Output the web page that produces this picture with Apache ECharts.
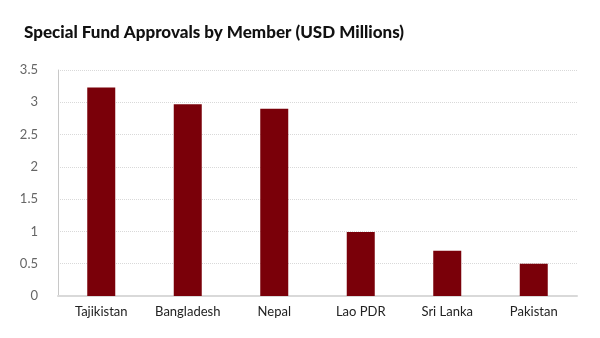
<!DOCTYPE html>
<html><head><meta charset="utf-8">
<script src="https://cdn.jsdelivr.net/npm/echarts@6/dist/echarts.min.js"></script>
<style>html,body{margin:0;padding:0;background:#fff}#c{width:600px;height:338px}</style>
</head><body><div id="c"></div>
<script>
const categories = ['Tajikistan','Bangladesh','Nepal','Lao PDR','Sri Lanka','Pakistan'];
const values = [3.23, 2.97, 2.90, 0.99, 0.70, 0.50];
const yTicks = [0,0.5,1,1.5,2,2.5,3,3.5];

const chart = echarts.init(document.getElementById('c'));
chart.setOption({
  animation:false,
  title:{text:'Special Fund Approvals by Member (USD Millions)',left:19,top:19,
    textStyle:{fontFamily:'Lato',fontWeight:900,fontSize:17,color:'#111'}},
  grid:{left:58,right:23,top:70,bottom:42,containLabel:false},
  xAxis:{type:'category',data:categories,
    axisLine:{lineStyle:{color:'#d9d9d9',width:2}},
    axisTick:{show:false},
    axisLabel:{color:'#222',fontFamily:'Lato',fontSize:13,margin:9}},
  yAxis:{type:'value',min:0,max:3.5,interval:0.5,
    axisLine:{show:true,lineStyle:{color:'#c8c8c8',width:1}},
    axisTick:{show:false},
    splitLine:{lineStyle:{color:'#d9d9d9',type:'dotted'}},
    axisLabel:{color:'#666',fontFamily:'Lato',fontSize:13,margin:20,
      formatter:v=>yTicks.includes(v)?String(v):''}},
  series:[{type:'bar',data:values,barWidth:28,
    itemStyle:{color:'#7a0009'}}]
});
</script></body></html>
